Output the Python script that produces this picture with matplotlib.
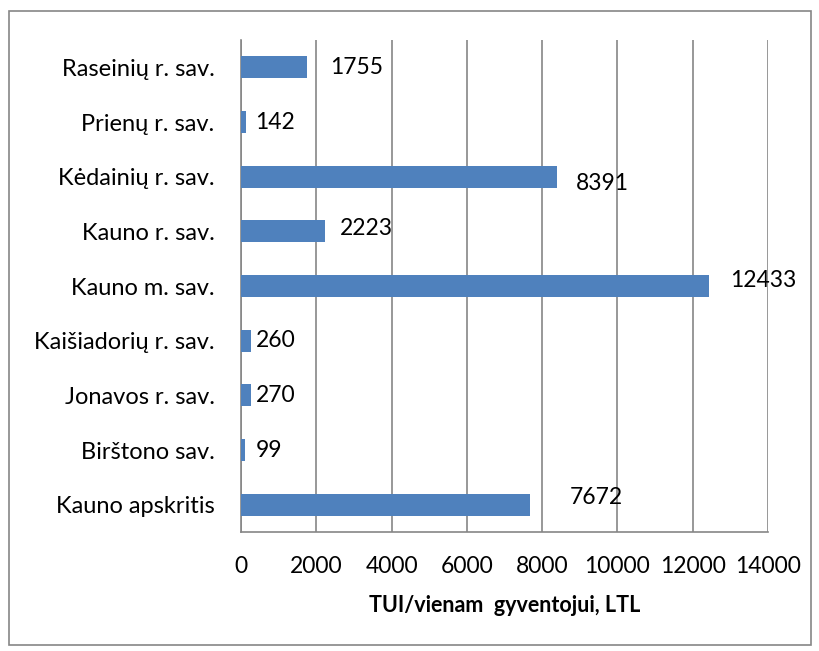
import matplotlib
matplotlib.use("Agg")
from matplotlib import pyplot as plt
import matplotlib.patches as mpatches

# data, top to bottom as in the picture
regions = ['Raseinių r. sav.', 'Prienų r. sav.', 'Kėdainių r. sav.', 'Kauno r. sav.',
           'Kauno m. sav.', 'Kaišiadorių r. sav.', 'Jonavos r. sav.', 'Birštono sav.',
           'Kauno apskritis']
values = [1755, 142, 8391, 2223, 12433, 260, 270, 99, 7672]
xticks = [0, 2000, 4000, 6000, 8000, 10000, 12000, 14000]

# label nudges (pixels), Excel put some of them off-centre
lab_dx = [23, 9, 19, 15, 21, 5, 5, 11, 40]
lab_dy = [0, 0, -7, 3, 6, 0, 0, 0, 7]

plt.rcParams['font.family'] = ['Lato', 'DejaVu Sans']
fs = 16.5

fig = plt.figure(figsize=(8.2, 6.51), dpi=100)
ax = fig.add_axes([241/820, 1 - 532/651, (768-241)/820, (532-40)/651])

ypos = list(range(len(regions)))[::-1]
ax.barh(ypos, values, height=0.4, color='#4F81BD', zorder=3)
ax.set_ylim(-0.5, len(regions) - 0.5)
ax.set_xlim(0, 14000)
ax.set_yticks(ypos)
ax.set_yticklabels(regions, fontsize=fs + 0.5)
ax.set_xticks(xticks)
ax.set_xticklabels([str(t) for t in xticks], fontsize=fs)
ax.tick_params(axis='both', length=0)
ax.tick_params(axis='y', pad=19)
ax.tick_params(axis='x', pad=17)
ax.grid(axis='x', color='#868686', linewidth=1.2, zorder=0)
for s in ['top', 'right']:
    ax.spines[s].set_visible(False)
ax.spines['left'].set_color('#868686')
ax.spines['bottom'].set_color('#868686')
ax.spines['left'].set_linewidth(1.2)
ax.spines['bottom'].set_linewidth(1.2)
ax.set_xlabel('TUI/vienam  gyventojui, LTL', fontsize=fs - 1, fontweight='bold', labelpad=13)

for y, v, dx, dy in zip(ypos, values, lab_dx, lab_dy):
    ax.annotate(str(v), (v, y), xytext=(dx, dy), textcoords='offset pixels',
                ha='left', va='center', fontsize=fs, zorder=4)

fig.patches.append(mpatches.Rectangle((9/820, 1 - 645/651), 802/820, 634/651,
                                      transform=fig.transFigure, fill=False,
                                      edgecolor='#868686', linewidth=1.2))

fig.savefig('out.png', dpi=100)
